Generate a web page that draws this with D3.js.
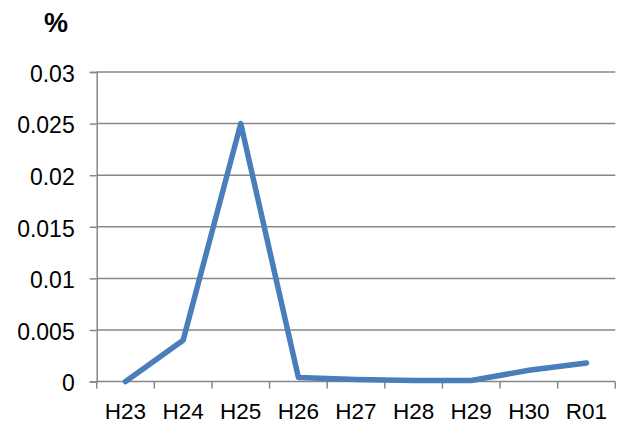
<!DOCTYPE html>
<html>
<head>
<meta charset="utf-8">
<script src="https://cdn.jsdelivr.net/npm/d3@7"></script>
<style>
  html, body { margin: 0; padding: 0; background: #ffffff; }
  svg text { font-family: "Liberation Sans", Arial, sans-serif; fill: #000; }
</style>
</head>
<body>
<svg id="chart" width="622" height="430"></svg>
<script>
// Fiscal years and rates (%)
const categories = ["H23", "H24", "H25", "H26", "H27", "H28", "H29", "H30", "R01"];
const values = [0, 0.004, 0.025, 0.0004, 0.0002, 0.0001, 0.0001, 0.0011, 0.0018];
const yTicks = [0, 0.005, 0.01, 0.015, 0.02, 0.025, 0.03];
const yTickLabels = ["0", "0.005", "0.01", "0.015", "0.02", "0.025", "0.03"];

const svg = d3.select("#chart");
const margin = { left: 96.7, right: 622 - 615.3, top: 72, bottom: 430 - 381.6 };
const width = 622 - margin.left - margin.right;
const height = 430 - margin.top - margin.bottom;

const g = svg.append("g").attr("transform", `translate(${margin.left},${margin.top})`);

const x = d3.scaleBand().domain(categories).range([0, width]).padding(0);
const y = d3.scaleLinear().domain([0, 0.03]).range([height, 0]);

const gridColor = "#878787";

// Horizontal gridlines
g.append("g")
  .selectAll("line")
  .data(yTicks.filter(d => d > 0))
  .join("line")
  .attr("x1", 0).attr("x2", width)
  .attr("y1", d => y(d)).attr("y2", d => y(d))
  .attr("stroke", gridColor).attr("stroke-width", 1.5);

// Y axis
const yAxis = d3.axisLeft(y)
  .tickValues(yTicks)
  .tickSize(7)
  .tickPadding(15)
  .tickFormat((d, i) => yTickLabels[i]);
const yg = g.append("g").call(yAxis);
yg.select(".domain").attr("stroke", gridColor).attr("stroke-width", 1.5);
yg.selectAll(".tick line").attr("stroke", gridColor).attr("stroke-width", 1.5);
yg.selectAll(".tick text")
  .attr("font-size", 23)
  .attr("dy", "0.4em")
  .style("font-family", "'Liberation Sans', Arial, sans-serif");

// X axis with ticks at category boundaries
const boundaries = categories.map(c => x(c)).concat([width]);
const xg = g.append("g").attr("transform", `translate(0,${height})`);
xg.append("line")
  .attr("x1", 0).attr("x2", width).attr("y1", 0).attr("y2", 0)
  .attr("stroke", gridColor).attr("stroke-width", 1.5);
xg.selectAll("line.tick")
  .data(boundaries)
  .join("line")
  .attr("class", "tick")
  .attr("x1", d => d).attr("x2", d => d)
  .attr("y1", 0).attr("y2", 7)
  .attr("stroke", gridColor).attr("stroke-width", 1.5);
xg.selectAll("text")
  .data(categories)
  .join("text")
  .attr("x", d => x(d) + x.bandwidth() / 2)
  .attr("y", 37.8)
  .attr("text-anchor", "middle")
  .attr("font-size", 22.5)
  .text(d => d);

// Data line
const line = d3.line()
  .x((d, i) => x(categories[i]) + x.bandwidth() / 2)
  .y(d => y(d));
g.append("path")
  .datum(values)
  .attr("d", line)
  .attr("fill", "none")
  .attr("stroke", "#4a7ebb")
  .attr("stroke-width", 5.5)
  .attr("stroke-linejoin", "round")
  .attr("stroke-linecap", "round");

// Unit label
svg.append("text")
  .attr("x", 56)
  .attr("y", 31.5)
  .attr("text-anchor", "middle")
  .attr("font-size", 27)
  .attr("font-weight", "bold")
  .text("%");
</script>
</body>
</html>
